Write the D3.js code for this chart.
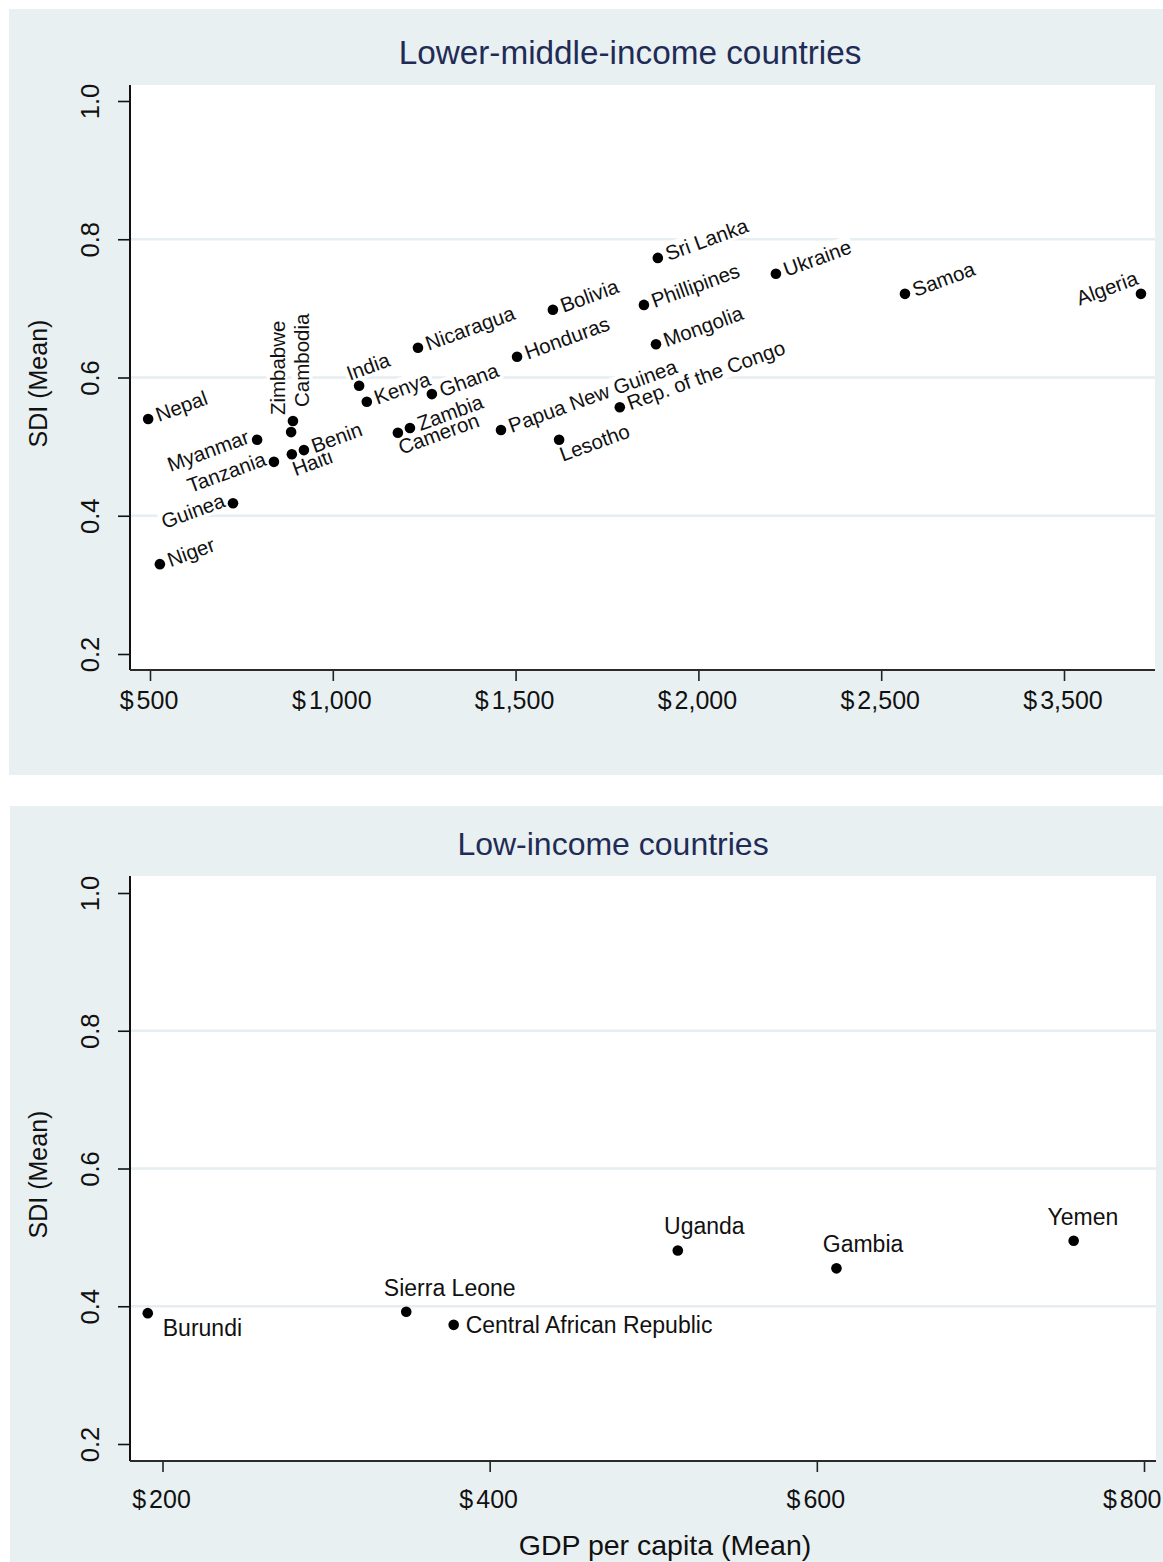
<!DOCTYPE html>
<html>
<head>
<meta charset="utf-8">
<script src="https://cdn.jsdelivr.net/npm/d3@7"></script>
<style>
  body { margin: 0; background: #ffffff; }
  svg { display: block; }
  text { font-family: "Liberation Sans", Arial, Helvetica, sans-serif; }
</style>
</head>
<body>
<svg id="chart" width="1163" height="1562"></svg>
<script>
// ---- Lower-middle-income countries ----
const lmicCountries = ["Nepal", "Niger", "Guinea", "Myanmar", "Tanzania", "Zimbabwe", "Cambodia",
  "Haiti", "Benin", "India", "Kenya", "Cameron", "Zambia", "Nicaragua", "Ghana",
  "Papua New Guinea", "Honduras", "Bolivia", "Lesotho", "Rep. of the Congo", "Phillipines",
  "Mongolia", "Sri Lanka", "Ukraine", "Samoa", "Algeria"];
const lmicGdp = [495, 527, 727, 793, 839, 886, 891,
  888, 921, 1072, 1093, 1178, 1211, 1233, 1271,
  1460, 1504, 1602, 1619, 1785, 1851,
  1884, 1889, 2212, 2630, 3921];
const lmicSdi = [0.540, 0.330, 0.418, 0.510, 0.478, 0.521, 0.537,
  0.489, 0.495, 0.588, 0.565, 0.520, 0.527, 0.643, 0.576,
  0.524, 0.630, 0.698, 0.510, 0.557, 0.705,
  0.648, 0.773, 0.750, 0.721, 0.721];
// label placement code for each country (r = right, l = left, b = below,
// ul = upper left, ua = above, ending at the marker, vl / vr = vertical left / right)
const lmicLabelPos = ["r", "r", "l", "l", "l", "vl", "vr",
  "b", "r", "ul", "r", "b", "r", "r", "r",
  "r", "r", "r", "b", "r", "r",
  "r", "r", "r", "r", "ua"];
const lmicGdpTicks = [500, 1000, 1500, 2000, 2500, 3500];

// ---- Low-income countries ----
const licCountries = ["Burundi", "Sierra Leone", "Central African Republic", "Uganda", "Gambia", "Yemen"];
const licGdp = [191, 349, 378, 515, 612, 757];
const licSdi = [0.390, 0.392, 0.373, 0.481, 0.455, 0.495];
const licLabelPos = ["br", "t", "r2", "t", "t", "t2"];
const licGdpTicks = [200, 400, 600, 800];

// ---- shared axis values ----
const sdiTicks = [0.2, 0.4, 0.6, 0.8, 1.0];
const sdiGrid = [0.4, 0.6, 0.8];

const BG = "#e9f0f2";
const GRID = "#e6eef1";
const TITLE_COLOR = "#1f2c56";

const placements = {
  r:  { dx: 8,   dy: -4,  anchor: "start", rot: -20, base: "central" },
  l:  { dx: -9,  dy: -4,  anchor: "end",   rot: -20, base: "central" },
  b:  { dx: 1,   dy: 15,  anchor: "start", rot: -20, base: "central" },
  ul: { dx: -12, dy: -12, anchor: "start", rot: -20, base: "central" },
  ua: { dx: -4,  dy: -17, anchor: "end",   rot: -20, base: "central" },
  vl: { dx: -14, dy: -17, anchor: "start", rot: -90, base: "central" },
  vr: { dx: 9,   dy: -14, anchor: "start", rot: -90, base: "central" },
  t:  { dx: 0,   dy: -16, anchor: "start", rot: 0, base: "alphabetic", frac: -0.17 },
  t2: { dx: 0,   dy: -16, anchor: "start", rot: 0, base: "alphabetic", frac: -0.37 },
  br: { dx: 15,  dy: 23,  anchor: "start", rot: 0, base: "alphabetic" },
  r2: { dx: 12,  dy: 8,   anchor: "start", rot: 0, base: "alphabetic" }
};

const svg = d3.select("#chart");

function drawPanel(cfg) {
  const g = svg.append("g");
  const p = cfg.plot;
  const regionRight = cfg.region.x + cfg.region.w;

  // outer graph region and white plot region
  g.append("rect").attr("x", cfg.region.x).attr("y", cfg.region.y)
    .attr("width", cfg.region.w).attr("height", cfg.region.h).attr("fill", BG);
  g.append("rect").attr("x", p.left).attr("y", p.top)
    .attr("width", p.right - p.left).attr("height", p.bottom - p.top).attr("fill", "#ffffff");

  // scales: x ticks are evenly spaced along the axis
  const n = cfg.xTicks.length;
  const xRange = cfg.xTicks.map((d, i) => cfg.xFirst + (cfg.xLast - cfg.xFirst) * i / (n - 1));
  const x = d3.scaleLinear().domain(cfg.xTicks).range(xRange);
  const y = d3.scaleLinear().domain([0.2, 1.0]).range([cfg.y02, cfg.y10]);

  // title
  g.append("text").attr("x", cfg.titleX).attr("y", cfg.titleY)
    .attr("text-anchor", "middle").attr("font-size", cfg.titleSize).attr("fill", TITLE_COLOR)
    .text(cfg.title);

  // horizontal grid lines
  g.append("g").selectAll("line").data(sdiGrid).join("line")
    .attr("x1", p.left).attr("x2", p.right)
    .attr("y1", d => y(d)).attr("y2", d => y(d))
    .attr("stroke", GRID).attr("stroke-width", 2.5);

  // y axis
  const yAxis = g.append("g").attr("transform", `translate(${p.left},0)`)
    .call(d3.axisLeft(y).tickValues(sdiTicks).tickSize(12).tickSizeOuter(0)
      .tickFormat(d3.format(".1f")));
  yAxis.select(".domain").remove();
  yAxis.selectAll(".tick line").attr("stroke", "#111").attr("stroke-width", 1.6);
  yAxis.selectAll(".tick text")
    .attr("x", null).attr("dy", null)
    .attr("transform", "translate(-40,0) rotate(-90)")
    .attr("text-anchor", "middle").attr("dominant-baseline", "central")
    .attr("font-size", 25.5).attr("fill", "#111")
    .style("font-family", '"Liberation Sans", Arial, sans-serif');
  g.append("line").attr("x1", p.left).attr("x2", p.left).attr("y1", p.top).attr("y2", p.bottom)
    .attr("stroke", "#111").attr("stroke-width", 2);

  // x axis
  const xAxis = g.append("g").attr("transform", `translate(0,${p.bottom})`)
    .call(d3.axisBottom(x).tickValues(cfg.xTicks).tickSize(11).tickSizeOuter(0)
      .tickFormat(d => d3.format(",")(d)));
  xAxis.select(".domain").remove();
  xAxis.selectAll(".tick line").attr("stroke", "#222").attr("stroke-width", 1.6);
  xAxis.selectAll(".tick").each(function (d) {
    const t = d3.select(this).select("text");
    const num = t.text();
    t.text(null).attr("y", cfg.xLabelOffset).attr("dy", null).attr("x", -1.5)
      .attr("font-size", 25).attr("fill", "#111")
      .style("font-family", '"Liberation Sans", Arial, sans-serif');
    t.append("tspan").text("$");
    t.append("tspan").attr("dx", 3).text(num);
    // keep the label inside the graph region
    const bb = t.node().getBBox();
    const right = x(d) + bb.x + bb.width;
    if (right > regionRight - 2) t.attr("x", -1.5 - (right - (regionRight - 2)));
  });
  g.append("line").attr("x1", p.left).attr("x2", p.right).attr("y1", p.bottom).attr("y2", p.bottom)
    .attr("stroke", "#2a2a2a").attr("stroke-width", 2);

  // y axis title
  g.append("text")
    .attr("transform", `translate(${cfg.yTitleX},${(p.top + p.bottom) / 2 + 6}) rotate(-90)`)
    .attr("text-anchor", "middle").attr("dominant-baseline", "central")
    .attr("font-size", 25).attr("fill", "#111").text("SDI (Mean)");

  if (cfg.xTitle) {
    g.append("text").attr("x", cfg.xTitleX).attr("y", cfg.xTitleY)
      .attr("text-anchor", "middle").attr("font-size", 28.5).attr("fill", "#111")
      .text(cfg.xTitle);
  }

  // marker labels, each on a white box
  const labels = g.append("g");
  cfg.names.forEach((name, i) => {
    const pl = placements[cfg.pos[i]];
    const px = x(cfg.gdp[i]), py = y(cfg.sdi[i]);
    const lg = labels.append("g");
    const txt = lg.append("text")
      .attr("text-anchor", pl.anchor).attr("dominant-baseline", pl.base)
      .attr("font-size", cfg.labelSize).attr("fill", "#111").text(name);
    let extra = 0;
    if (pl.frac) extra = pl.frac * txt.node().getComputedTextLength();
    lg.attr("transform", `translate(${px + pl.dx + extra},${py + pl.dy}) rotate(${pl.rot})`);
    const bb = txt.node().getBBox();
    lg.insert("rect", "text")
      .attr("x", bb.x - 2).attr("y", bb.y + 1)
      .attr("width", bb.width + 4).attr("height", bb.height - 2)
      .attr("fill", "#ffffff");
  });

  // markers
  g.append("g").selectAll("circle").data(cfg.names.map((d, i) => i)).join("circle")
    .attr("cx", i => x(cfg.gdp[i])).attr("cy", i => y(cfg.sdi[i]))
    .attr("r", 5.3).attr("fill", "#000");
}

drawPanel({
  region: { x: 9, y: 9, w: 1154, h: 766 },
  plot: { left: 130, right: 1155, top: 85, bottom: 670 },
  xTicks: lmicGdpTicks, xFirst: 150, xLast: 1064,
  y02: 654, y10: 101,
  title: "Lower-middle-income countries", titleX: 630, titleY: 64, titleSize: 33.3,
  xLabelOffset: 39, yTitleX: 38,
  names: lmicCountries, gdp: lmicGdp, sdi: lmicSdi, pos: lmicLabelPos,
  labelSize: 20.5
});

drawPanel({
  region: { x: 10, y: 806, w: 1153, h: 756 },
  plot: { left: 130, right: 1156, top: 876, bottom: 1461 },
  xTicks: licGdpTicks, xFirst: 162.5, xLast: 1144,
  y02: 1444, y10: 893,
  title: "Low-income countries", titleX: 613, titleY: 855, titleSize: 32,
  xLabelOffset: 47, yTitleX: 38,
  xTitle: "GDP per capita (Mean)", xTitleX: 665, xTitleY: 1555,
  names: licCountries, gdp: licGdp, sdi: licSdi, pos: licLabelPos,
  labelSize: 23
});
</script>
</body>
</html>
